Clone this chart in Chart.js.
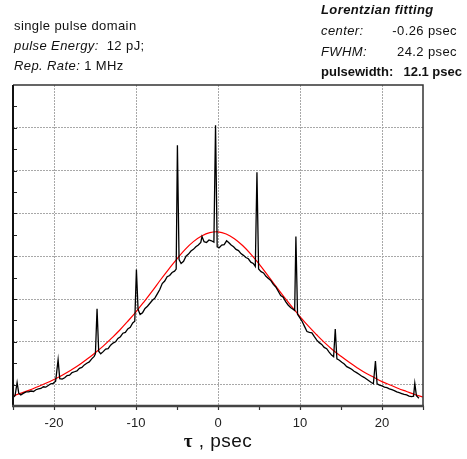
<!DOCTYPE html>
<html>
<head>
<meta charset="utf-8">
<script src="https://cdn.jsdelivr.net/npm/chart.js"></script>
<style>
  body { margin:0; background:#fff; }
  #wrap { position:relative; width:467px; height:459px; font-family:"Liberation Sans", Arial, sans-serif; color:#111; }
  #wrap canvas { position:absolute; left:0; top:0; }
  .txt { position:absolute; font-size:13px; line-height:16px; letter-spacing:0.4px; white-space:pre; }
  .it { font-style:italic; }
  .bd { font-weight:bold; }
  #xtitle { position:absolute; left:0; top:430px; width:436px; text-align:center; font-size:19px; line-height:22px; letter-spacing:0.5px; }
  #xtitle .tau { font-family:"Liberation Serif", "DejaVu Serif", serif; font-weight:bold; }
</style>
</head>
<body>
<div id="wrap">
  <canvas id="c" width="467" height="459"></canvas>

  <!-- top left notes -->
  <div class="txt" style="left:14px;top:18px;">single pulse domain</div>
  <div class="txt" style="left:14px;top:38px;"><span class="it">pulse Energy:</span>  12 pJ;</div>
  <div class="txt" style="left:14px;top:58px;"><span class="it">Rep. Rate:</span> 1 MHz</div>

  <!-- fit results -->
  <div class="txt it bd" style="left:321px;top:2px;">Lorentzian fitting</div>
  <div class="txt it" style="left:321px;top:23px;">center:</div>
  <div class="txt" style="right:10px;top:23px;">-0.26 psec</div>
  <div class="txt it" style="left:321px;top:44px;">FWHM:</div>
  <div class="txt" style="right:10px;top:44px;">24.2 psec</div>
  <div class="txt bd" style="left:321px;top:64px;letter-spacing:0;">pulsewidth:</div>
  <div class="txt bd" style="right:5px;top:64px;letter-spacing:0;">12.1 psec</div>

  <div id="xtitle"><span class="tau">τ</span> , psec</div>
</div>
<script>
// measured autocorrelation trace (delay in psec, signal in arb. units)
const tau = [
  -25.0, -24.75, -24.5, -24.3, -24.05, -23.7, -23.4, -23.1, -22.8, -22.5,
  -22.2, -21.9, -21.6, -21.3, -21.0, -20.7, -20.4, -20.1, -19.8, -19.5,
  -19.3, -19.0, -18.7, -18.4, -18.1, -17.8, -17.5, -17.2, -16.9, -16.6,
  -16.3, -16.0, -15.7, -15.4, -15.1, -14.95, -14.75, -14.55, -14.3, -14.0,
  -13.7, -13.4, -13.1, -12.8, -12.5, -12.2, -11.9, -11.6, -11.3, -11.0,
  -10.7, -10.4, -10.15, -9.95, -9.75, -9.5, -9.2, -8.9, -8.6, -8.3,
  -8.0, -7.7, -7.4, -7.1, -6.8, -6.5, -6.2, -5.9, -5.6, -5.3,
  -5.1, -4.95, -4.75, -4.5, -4.2, -3.9, -3.6, -3.3, -3.0, -2.7,
  -2.4, -2.1, -1.95, -1.7, -1.4, -1.1, -0.8, -0.5, -0.3, -0.1,
  0.15, 0.45, 0.75, 1.05, 1.3, 1.6, 1.9, 2.2, 2.5, 2.8,
  3.1, 3.4, 3.7, 4.0, 4.3, 4.55, 4.75, 4.95, 5.25, 5.55,
  5.85, 6.15, 6.45, 6.75, 7.05, 7.35, 7.65, 7.95, 8.25, 8.55,
  8.85, 9.15, 9.35, 9.5, 9.7, 9.95, 10.25, 10.55, 10.85, 11.15,
  11.45, 11.75, 12.05, 12.35, 12.65, 12.95, 13.25, 13.55, 13.85, 14.1,
  14.3, 14.5, 14.8, 15.1, 15.4, 15.7, 16.0, 16.3, 16.6, 16.9,
  17.2, 17.5, 17.8, 18.1, 18.4, 18.7, 18.95, 19.2, 19.4, 19.7,
  20.0, 20.3, 20.6, 20.9, 21.2, 21.5, 21.8, 22.1, 22.4, 22.7,
  23.0, 23.3, 23.6, 23.85, 24.0, 24.2, 24.5
];
const signal = [
  0.20, 0.24, 0.55, 0.30, 0.26, 0.30, 0.33, 0.33, 0.35, 0.34,
  0.38, 0.40, 0.41, 0.45, 0.44, 0.48, 0.52, 0.53, 0.58, 1.08,
  0.64, 0.63, 0.66, 0.71, 0.72, 0.78, 0.80, 0.82, 0.88, 0.90,
  0.96, 1.00, 1.03, 1.10, 1.16, 1.22, 2.27, 1.28, 1.22, 1.27,
  1.33, 1.34, 1.42, 1.47, 1.50, 1.58, 1.62, 1.70, 1.72, 1.80,
  1.84, 1.94, 1.98, 3.19, 2.26, 2.14, 2.18, 2.28, 2.33, 2.40,
  2.47, 2.52, 2.62, 2.72, 2.86, 2.92, 3.02, 3.05, 3.12, 3.15,
  3.20, 6.09, 3.42, 3.33, 3.38, 3.50, 3.55, 3.62, 3.66, 3.72,
  3.76, 3.82, 3.96, 3.84, 3.82, 3.88, 3.86, 3.83, 6.56, 3.72,
  3.70, 3.76, 3.77, 3.86, 3.82, 3.76, 3.72, 3.66, 3.63, 3.56,
  3.52, 3.47, 3.44, 3.36, 3.33, 3.26, 5.46, 3.20, 3.14, 3.11,
  3.03, 2.98, 2.93, 2.84, 2.78, 2.68, 2.58, 2.54, 2.44, 2.36,
  2.30, 2.26, 2.23, 3.96, 2.14, 2.07, 1.98, 1.86, 1.74, 1.72,
  1.71, 1.62, 1.54, 1.48, 1.44, 1.37, 1.34, 1.26, 1.19, 1.15,
  1.80, 1.10, 1.07, 1.02, 0.98, 0.92, 0.89, 0.86, 0.81, 0.78,
  0.74, 0.70, 0.67, 0.63, 0.59, 0.55, 0.52, 1.05, 0.52, 0.49,
  0.47, 0.44, 0.43, 0.40, 0.38, 0.36, 0.33, 0.31, 0.29, 0.27,
  0.26, 0.23, 0.22, 0.23, 0.53, 0.24, 0.18
];

// Lorentzian fit curve
const fitTau = [
  -25, -24, -23, -22, -21, -20, -19, -18, -17, -16, -15, -14, -13, -12, -11, -10, -9,
  -8, -7, -6, -5, -4, -3, -2, -1, 0, 1, 2, 3, 4, 5, 6, 7, 8, 9,
  10, 11, 12, 13, 14, 15, 16, 17, 18, 19, 20, 21, 22, 23, 24, 25
];
const fitSignal = [
  0.24, 0.30, 0.37, 0.45, 0.53, 0.62, 0.72, 0.83, 0.95, 1.09, 1.24, 1.40, 1.58, 1.77, 1.98, 2.20, 2.44,
  2.69, 2.95, 3.20, 3.44, 3.66, 3.84, 3.97, 4.05, 4.07, 4.02, 3.91, 3.75, 3.55, 3.32, 3.07, 2.81, 2.56, 2.32,
  2.09, 1.87, 1.67, 1.48, 1.31, 1.16, 1.02, 0.89, 0.77, 0.67, 0.57, 0.49, 0.41, 0.34, 0.27, 0.21
];

// axis levels
const yGridLevels = [0.5, 1.5, 2.5, 3.5, 4.5, 5.5, 6.5];
const yTickLevels = [0.5, 1, 1.5, 2, 2.5, 3, 3.5, 4, 4.5, 5, 5.5, 6, 6.5, 7];

const frame = {
  id: 'frame',
  afterDraw(chart) {
    const { ctx, chartArea: a, scales } = chart;
    ctx.save();
    // inward ticks on the left axis
    ctx.strokeStyle = '#222';
    ctx.lineWidth = 1;
    ctx.beginPath();
    yTickLevels.forEach(v => {
      const y = Math.round(scales.y.getPixelForValue(v)) + 0.5;
      ctx.moveTo(a.left, y);
      ctx.lineTo(a.left + 4, y);
    });
    ctx.stroke();
    // box
    ctx.strokeStyle = '#333';
    ctx.lineWidth = 1.5;
    ctx.beginPath();
    ctx.moveTo(a.left, a.top);
    ctx.lineTo(a.right, a.top);
    ctx.lineTo(a.right, a.bottom);
    ctx.stroke();
    ctx.strokeStyle = '#111';
    ctx.lineWidth = 2;
    ctx.beginPath();
    ctx.moveTo(a.left, a.top);
    ctx.lineTo(a.left, a.bottom + 1);
    ctx.stroke();
    ctx.strokeStyle = '#444';
    ctx.lineWidth = 2.5;
    ctx.beginPath();
    ctx.moveTo(a.left - 1, a.bottom);
    ctx.lineTo(a.right + 1, a.bottom);
    ctx.stroke();
    ctx.restore();
  }
};

const isMajor = v => v % 10 === 0 && Math.abs(v) < 25;

new Chart(document.getElementById('c'), {
  type: 'line',
  data: {
    datasets: [
      {
        data: tau.map((t, i) => ({ x: t, y: signal[i] })),
        borderColor: '#000',
        borderWidth: 1.3,
        pointRadius: 0,
        tension: 0
      },
      {
        data: fitTau.map((t, i) => ({ x: t, y: fitSignal[i] })),
        borderColor: '#ff0000',
        borderWidth: 1.2,
        pointRadius: 0,
        tension: 0.4
      }
    ]
  },
  options: {
    responsive: false,
    animation: false,
    devicePixelRatio: 1,
    layout: { padding: { left: 13, right: 44, top: 85, bottom: 0 } },
    plugins: { legend: { display: false }, tooltip: { enabled: false } },
    scales: {
      x: {
        type: 'linear',
        min: -25,
        max: 25,
        ticks: {
          stepSize: 5,
          autoSkip: false,
          maxRotation: 0,
          padding: 6,
          color: '#222',
          font: { family: '"Liberation Sans", Arial, sans-serif', size: 13 },
          callback: v => (isMajor(v) ? String(v) : '')
        },
        grid: {
          color: c => (c.tick && isMajor(c.tick.value) ? '#a8a8a8' : 'rgba(0,0,0,0)'),
          tickColor: '#333',
          tickLength: 4,
          tickWidth: 1.2,
          lineWidth: 1
        },
        border: { display: false, dash: [2, 1] },
        afterFit: s => { s.height = 53; }
      },
      y: {
        min: 0,
        max: 7.5,
        afterBuildTicks: s => { s.ticks = yGridLevels.map(v => ({ value: v })); },
        ticks: { display: false },
        grid: { color: '#a8a8a8', drawTicks: false, lineWidth: 1 },
        border: { display: false, dash: [2, 1] },
        afterFit: s => { s.width = 0; }
      }
    }
  },
  plugins: [frame]
});
</script>
</body>
</html>
